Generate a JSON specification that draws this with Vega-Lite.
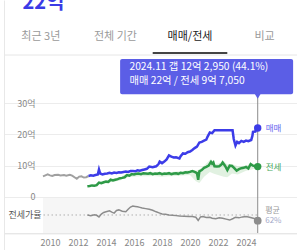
{
  "$schema": "https://vega.github.io/schema/vega-lite/v6.json",
  "width": 214,
  "height": 250,
  "autosize": "none",
  "padding": {"left": 43, "top": 0, "right": 40, "bottom": 0},
  "background": "#ffffff",
  "config": {
    "font": "Noto Sans CJK KR",
    "view": {"stroke": null},
    "text": {"font": "Noto Sans CJK KR"},
    "axis": {"labelOverlap": false, "labelBound": false, "labelFlush": false}
  },
  "datasets": {
    "early": [
      {"date": "2009-07-01", "v": 6.6}, {"date": "2009-09-01", "v": 6.9}, {"date": "2009-11-01", "v": 7.2},
      {"date": "2010-01-01", "v": 6.9}, {"date": "2010-03-01", "v": 6.7}, {"date": "2010-05-01", "v": 7.0},
      {"date": "2010-08-01", "v": 7.1}, {"date": "2010-10-01", "v": 6.9}, {"date": "2011-01-01", "v": 7.0},
      {"date": "2011-03-01", "v": 6.8}, {"date": "2011-06-01", "v": 7.1}, {"date": "2011-08-01", "v": 6.8},
      {"date": "2011-10-01", "v": 6.3}, {"date": "2011-12-01", "v": 5.8}, {"date": "2012-02-01", "v": 6.5},
      {"date": "2012-04-01", "v": 6.6}, {"date": "2012-06-01", "v": 6.2}, {"date": "2012-08-01", "v": 6.3},
      {"date": "2012-10-01", "v": 6.7}
    ],
    "sale": [
      {"date": "2012-10-01", "v": 6.7}, {"date": "2012-12-01", "v": 6.9}, {"date": "2013-02-01", "v": 6.8},
      {"date": "2013-04-01", "v": 7.0}, {"date": "2013-06-01", "v": 7.2}, {"date": "2013-07-01", "v": 8.8},
      {"date": "2013-08-01", "v": 7.5}, {"date": "2013-10-01", "v": 7.2}, {"date": "2013-12-01", "v": 7.4},
      {"date": "2014-02-01", "v": 7.5}, {"date": "2014-04-01", "v": 7.7}, {"date": "2014-06-01", "v": 7.5},
      {"date": "2014-08-01", "v": 7.8}, {"date": "2014-10-01", "v": 7.7}, {"date": "2014-12-01", "v": 7.9},
      {"date": "2015-02-01", "v": 7.8}, {"date": "2015-04-01", "v": 8.0}, {"date": "2015-06-01", "v": 8.1},
      {"date": "2015-08-01", "v": 8.0}, {"date": "2015-10-01", "v": 8.3}, {"date": "2015-12-01", "v": 8.3},
      {"date": "2016-02-01", "v": 8.2}, {"date": "2016-04-01", "v": 8.5}, {"date": "2016-06-01", "v": 8.4},
      {"date": "2016-08-01", "v": 8.6}, {"date": "2016-10-01", "v": 8.8}, {"date": "2016-12-01", "v": 9.0},
      {"date": "2017-02-01", "v": 9.7}, {"date": "2017-05-01", "v": 9.5}, {"date": "2017-08-01", "v": 9.8},
      {"date": "2017-10-01", "v": 10.5}, {"date": "2017-11-01", "v": 11.3}, {"date": "2018-01-01", "v": 10.8},
      {"date": "2018-03-01", "v": 11.3}, {"date": "2018-05-01", "v": 12.0}, {"date": "2018-07-01", "v": 13.3},
      {"date": "2018-09-01", "v": 12.9}, {"date": "2018-11-01", "v": 12.6}, {"date": "2019-01-01", "v": 12.7},
      {"date": "2019-04-01", "v": 12.3}, {"date": "2019-05-01", "v": 13.0}, {"date": "2019-07-01", "v": 13.9},
      {"date": "2019-09-01", "v": 13.8}, {"date": "2019-11-01", "v": 14.3}, {"date": "2020-01-01", "v": 14.5},
      {"date": "2020-03-01", "v": 15.0}, {"date": "2020-05-01", "v": 15.6}, {"date": "2020-07-01", "v": 16.1},
      {"date": "2020-09-01", "v": 17.4}, {"date": "2020-11-01", "v": 17.6}, {"date": "2021-01-01", "v": 18.0},
      {"date": "2021-03-01", "v": 18.3}, {"date": "2021-04-01", "v": 19.2}, {"date": "2021-06-01", "v": 20.6},
      {"date": "2021-08-01", "v": 20.4}, {"date": "2021-10-01", "v": 21.3}, {"date": "2022-03-01", "v": 21.3},
      {"date": "2022-08-01", "v": 21.3}, {"date": "2023-01-15", "v": 21.3}, {"date": "2023-02-15", "v": 18.5},
      {"date": "2023-04-01", "v": 16.4}, {"date": "2023-05-15", "v": 17.6}, {"date": "2023-07-01", "v": 17.2},
      {"date": "2023-09-01", "v": 17.9}, {"date": "2023-11-01", "v": 17.6}, {"date": "2024-01-01", "v": 18.0},
      {"date": "2024-03-01", "v": 17.8}, {"date": "2024-05-15", "v": 18.2}, {"date": "2024-06-15", "v": 19.5},
      {"date": "2024-07-01", "v": 20.8}, {"date": "2024-09-01", "v": 20.9}, {"date": "2024-10-01", "v": 22.0},
      {"date": "2024-11-01", "v": 22.0}
    ],
    "jeonse": [
      {"date": "2012-09-01", "v": 3.4}, {"date": "2012-11-01", "v": 3.5}, {"date": "2013-01-01", "v": 3.7},
      {"date": "2013-03-01", "v": 3.6}, {"date": "2013-05-01", "v": 3.8}, {"date": "2013-07-01", "v": 4.6},
      {"date": "2013-09-01", "v": 4.4}, {"date": "2013-11-01", "v": 4.7}, {"date": "2014-01-01", "v": 4.9},
      {"date": "2014-03-01", "v": 4.8}, {"date": "2014-05-01", "v": 5.5}, {"date": "2014-07-01", "v": 5.3},
      {"date": "2014-09-01", "v": 5.5}, {"date": "2014-11-01", "v": 5.7}, {"date": "2015-01-01", "v": 6.0},
      {"date": "2015-03-01", "v": 6.1}, {"date": "2015-05-01", "v": 6.3}, {"date": "2015-07-01", "v": 7.0},
      {"date": "2015-09-01", "v": 6.8}, {"date": "2015-11-01", "v": 7.3}, {"date": "2016-01-01", "v": 7.2},
      {"date": "2016-03-01", "v": 7.4}, {"date": "2016-05-01", "v": 7.5}, {"date": "2016-07-01", "v": 7.3},
      {"date": "2016-09-01", "v": 7.6}, {"date": "2016-11-01", "v": 7.5}, {"date": "2017-01-01", "v": 7.4},
      {"date": "2017-03-01", "v": 7.6}, {"date": "2017-05-01", "v": 7.3}, {"date": "2017-07-01", "v": 7.5},
      {"date": "2017-09-01", "v": 7.4}, {"date": "2017-11-01", "v": 7.6}, {"date": "2018-01-01", "v": 7.3},
      {"date": "2018-03-01", "v": 7.5}, {"date": "2018-05-01", "v": 7.4}, {"date": "2018-07-01", "v": 7.6},
      {"date": "2018-09-01", "v": 7.3}, {"date": "2018-11-01", "v": 7.5}, {"date": "2019-01-01", "v": 7.6},
      {"date": "2019-03-01", "v": 7.4}, {"date": "2019-05-01", "v": 7.7}, {"date": "2019-07-01", "v": 7.6},
      {"date": "2019-09-01", "v": 7.9}, {"date": "2019-11-01", "v": 7.8}, {"date": "2020-01-01", "v": 8.0},
      {"date": "2020-03-01", "v": 8.3}, {"date": "2020-05-01", "v": 8.0}, {"date": "2020-07-01", "v": 7.6},
      {"date": "2020-08-01", "v": 5.5}, {"date": "2020-09-01", "v": 8.2}, {"date": "2020-11-01", "v": 8.6},
      {"date": "2021-01-01", "v": 9.3}, {"date": "2021-03-01", "v": 9.6}, {"date": "2021-05-01", "v": 10.0},
      {"date": "2021-07-01", "v": 11.2}, {"date": "2021-08-01", "v": 10.6}, {"date": "2021-09-01", "v": 11.0},
      {"date": "2021-10-01", "v": 9.8}, {"date": "2021-12-01", "v": 9.7}, {"date": "2022-02-01", "v": 9.8},
      {"date": "2022-04-01", "v": 10.4}, {"date": "2022-05-01", "v": 11.0}, {"date": "2022-07-01", "v": 10.0},
      {"date": "2022-09-01", "v": 8.6}, {"date": "2022-11-01", "v": 10.0}, {"date": "2023-01-01", "v": 9.9},
      {"date": "2023-03-01", "v": 9.2}, {"date": "2023-05-01", "v": 8.4}, {"date": "2023-07-01", "v": 8.9},
      {"date": "2023-09-01", "v": 9.2}, {"date": "2023-11-01", "v": 9.3}, {"date": "2024-01-01", "v": 9.6},
      {"date": "2024-03-01", "v": 9.1}, {"date": "2024-05-01", "v": 10.5}, {"date": "2024-07-01", "v": 10.0},
      {"date": "2024-09-01", "v": 9.8}, {"date": "2024-11-01", "v": 9.705}
    ],
    "band": [
      {"date": "2013-06-01", "lo": 4.0, "hi": 4.8}, {"date": "2014-01-01", "lo": 4.4, "hi": 5.2},
      {"date": "2014-06-01", "lo": 4.8, "hi": 5.8}, {"date": "2015-01-01", "lo": 5.3, "hi": 6.3},
      {"date": "2015-06-01", "lo": 6.2, "hi": 7.3}, {"date": "2016-01-01", "lo": 6.5, "hi": 7.6},
      {"date": "2016-06-01", "lo": 6.6, "hi": 7.8}, {"date": "2017-01-01", "lo": 6.6, "hi": 7.8},
      {"date": "2017-06-01", "lo": 6.7, "hi": 7.8}, {"date": "2018-01-01", "lo": 6.5, "hi": 7.7},
      {"date": "2018-06-01", "lo": 6.6, "hi": 7.8}, {"date": "2019-01-01", "lo": 6.7, "hi": 8.1},
      {"date": "2019-06-01", "lo": 6.9, "hi": 8.2}, {"date": "2020-01-01", "lo": 7.0, "hi": 8.6},
      {"date": "2020-06-01", "lo": 5.0, "hi": 8.4}, {"date": "2020-09-01", "lo": 4.5, "hi": 8.8},
      {"date": "2021-01-01", "lo": 6.5, "hi": 10.0}, {"date": "2021-06-01", "lo": 8.0, "hi": 11.8},
      {"date": "2021-09-01", "lo": 7.5, "hi": 10.5}, {"date": "2022-01-01", "lo": 7.0, "hi": 10.6},
      {"date": "2022-06-01", "lo": 6.5, "hi": 11.5}, {"date": "2022-09-01", "lo": 6.3, "hi": 10.4},
      {"date": "2023-01-01", "lo": 7.5, "hi": 10.5}, {"date": "2023-06-01", "lo": 7.2, "hi": 9.8},
      {"date": "2024-01-01", "lo": 8.4, "hi": 10.0}, {"date": "2024-06-01", "lo": 8.8, "hi": 10.8},
      {"date": "2024-11-01", "lo": 9.4, "hi": 10.0}
    ],
    "ratio": [
      {"date": "2012-09-01", "r": 62}, {"date": "2012-12-01", "r": 60}, {"date": "2013-03-01", "r": 63},
      {"date": "2013-05-01", "r": 61}, {"date": "2013-07-01", "r": 56}, {"date": "2013-09-01", "r": 65},
      {"date": "2013-11-01", "r": 70}, {"date": "2014-01-01", "r": 72}, {"date": "2014-04-01", "r": 75},
      {"date": "2014-06-01", "r": 71}, {"date": "2014-08-01", "r": 68}, {"date": "2014-10-01", "r": 76},
      {"date": "2014-12-01", "r": 78}, {"date": "2015-03-01", "r": 74}, {"date": "2015-06-01", "r": 72},
      {"date": "2015-08-01", "r": 80}, {"date": "2015-10-01", "r": 87}, {"date": "2015-12-01", "r": 90},
      {"date": "2016-02-01", "r": 89}, {"date": "2016-04-01", "r": 88}, {"date": "2016-06-01", "r": 86},
      {"date": "2016-08-01", "r": 84}, {"date": "2016-11-01", "r": 82}, {"date": "2017-02-01", "r": 80},
      {"date": "2017-05-01", "r": 77}, {"date": "2017-08-01", "r": 72}, {"date": "2017-11-01", "r": 68},
      {"date": "2018-01-01", "r": 65}, {"date": "2018-04-01", "r": 64}, {"date": "2018-07-01", "r": 62},
      {"date": "2018-10-01", "r": 61}, {"date": "2019-01-01", "r": 60}, {"date": "2019-04-01", "r": 59},
      {"date": "2019-08-01", "r": 58}, {"date": "2019-12-01", "r": 57}, {"date": "2020-03-01", "r": 57},
      {"date": "2020-06-01", "r": 55}, {"date": "2020-08-01", "r": 45}, {"date": "2020-10-01", "r": 56},
      {"date": "2020-12-01", "r": 57}, {"date": "2021-03-01", "r": 54}, {"date": "2021-06-01", "r": 55},
      {"date": "2021-08-01", "r": 52}, {"date": "2021-11-01", "r": 50}, {"date": "2022-02-01", "r": 53},
      {"date": "2022-05-01", "r": 52}, {"date": "2022-08-01", "r": 49}, {"date": "2022-11-01", "r": 46},
      {"date": "2023-02-01", "r": 51}, {"date": "2023-04-01", "r": 55}, {"date": "2023-07-01", "r": 53},
      {"date": "2023-10-01", "r": 56}, {"date": "2024-01-01", "r": 57}, {"date": "2024-04-01", "r": 55},
      {"date": "2024-08-01", "r": 51}, {"date": "2024-11-01", "r": 44.1}
    ],
    "tip": [
      {"date": "2024-11-01", "sale": 22.0, "jeonse": 9.705, "ratio": 44.1, "mean": 62,
       "t1": "2024.11  갭 12억 2,950 (44.1%)", "t2": "매매 22억 / 전세 9억 7,050"}
    ],
    "tabs": [
      {"tab": "최근 3년", "sel": 0}, {"tab": "전체 기간", "sel": 0},
      {"tab": "매매/전세", "sel": 1}, {"tab": "비교", "sel": 0}
    ]
  },
  "layer": [
    {
      "layer": [
        {
          "layer": [
            {
              "data": {"name": "band"},
              "mark": {"type": "area", "color": "#a8d8a8", "opacity": 0.35},
              "encoding": {
                "x": {"field": "date", "type": "temporal",
                      "scale": {"type": "utc", "domain": [{"year": 2006, "month": 9, "date": 18, "utc": true}, {"year": 2027, "month": 8, "date": 23, "utc": true}], "range": [-39, 254]}},
                "y": {"field": "lo", "type": "quantitative",
                      "scale": {"domain": [-16.92, 62.88], "nice": false, "zero": false},
                      "axis": {"orient": "left", "values": [0, 10, 20, 30], "tickCount": 10, "labelExpr": "datum.value == 0 ? '0' : datum.value + '억'", "grid": true, "gridColor": "#ececec", "domain": false, "ticks": false, "tickSize": 0, "labelPadding": 8, "labelFontSize": 9, "labelColor": "#888888",
                               "title": "22억", "titleAngle": 0, "titleX": -21, "titleY": 8, "titleAlign": "left", "titleBaseline": "alphabetic", "titleFontSize": 20, "titleFontWeight": "bold", "titleColor": "#3b3be6"}},
                "y2": {"field": "hi"}
              }
            },
            {
              "data": {"name": "early"},
              "mark": {"type": "line", "color": "#a0a0a0", "strokeWidth": 2},
              "encoding": {
                "x": {"field": "date", "type": "temporal"},
                "y": {"field": "v", "type": "quantitative"}
              }
            },
            {
              "data": {"name": "jeonse"},
              "mark": {"type": "line", "color": "#2e9a47", "strokeWidth": 2.5},
              "encoding": {
                "x": {"field": "date", "type": "temporal"},
                "y": {"field": "v", "type": "quantitative"}
              }
            },
            {
              "data": {"name": "sale"},
              "mark": {"type": "line", "color": "#3c3ce8", "strokeWidth": 2.5},
              "encoding": {
                "x": {"field": "date", "type": "temporal"},
                "y": {"field": "v", "type": "quantitative"}
              }
            },
            {
              "data": {"name": "tip"},
              "mark": {"type": "rule", "color": "#8c8c8c", "strokeWidth": 1},
              "encoding": {
                "x": {"field": "date", "type": "temporal"},
                "y": {"datum": 32.5},
                "y2": {"datum": -11.5}
              }
            },
            {
              "data": {"name": "tip"},
              "mark": {"type": "point", "filled": true, "opacity": 1, "color": "#3c3ce8", "size": 55},
              "encoding": {
                "x": {"field": "date", "type": "temporal"},
                "y": {"field": "sale", "type": "quantitative"}
              }
            },
            {
              "data": {"name": "tip"},
              "mark": {"type": "point", "filled": true, "opacity": 1, "color": "#2e9a47", "size": 55},
              "encoding": {
                "x": {"field": "date", "type": "temporal"},
                "y": {"field": "jeonse", "type": "quantitative"}
              }
            },
            {
              "data": {"name": "tip"},
              "mark": {"type": "text", "align": "left", "baseline": "middle", "dx": 8, "fontSize": 8.5, "color": "#6a6af0"},
              "encoding": {
                "x": {"field": "date", "type": "temporal"},
                "y": {"field": "sale", "type": "quantitative"},
                "text": {"value": "매매"}
              }
            },
            {
              "data": {"name": "tip"},
              "mark": {"type": "text", "align": "left", "baseline": "middle", "dx": 8, "fontSize": 8.5, "color": "#48a860"},
              "encoding": {
                "x": {"field": "date", "type": "temporal"},
                "y": {"field": "jeonse", "type": "quantitative"},
                "text": {"value": "전세"}
              }
            },
            {
              "data": {"name": "tip"},
              "mark": {"type": "rect", "color": "#5b5ee6", "cornerRadius": 2, "xOffset": -137.6, "x2Offset": 35.4},
              "encoding": {
                "x": {"field": "date", "type": "temporal"},
                "x2": {"field": "date"},
                "y": {"datum": 44.05},
                "y2": {"datum": 32.78}
              }
            },
            {
              "data": {"name": "tip"},
              "mark": {"type": "point", "shape": "triangle-down", "filled": true, "opacity": 1, "color": "#5b5ee6", "size": 40},
              "encoding": {
                "x": {"field": "date", "type": "temporal"},
                "y": {"datum": 32.2}
              }
            },
            {
              "data": {"name": "tip"},
              "mark": {"type": "text", "align": "left", "baseline": "middle", "dx": -128.3, "fontSize": 10.3, "color": "#ffffff"},
              "encoding": {
                "x": {"field": "date", "type": "temporal"},
                "y": {"datum": 41.4},
                "text": {"field": "t1"}
              }
            },
            {
              "data": {"name": "tip"},
              "mark": {"type": "text", "align": "left", "baseline": "middle", "dx": -128.3, "fontSize": 10.3, "color": "#ffffff"},
              "encoding": {
                "x": {"field": "date", "type": "temporal"},
                "y": {"datum": 36.9},
                "text": {"field": "t2"}
              }
            }
          ]
        },
        {
          "layer": [
            {
              "data": {"name": "tip"},
              "mark": {"type": "rect", "color": "#f6f6f6"},
              "encoding": {
                "y": {"datum": 115.5, "scale": {"domain": [-48.1, 738.1], "nice": false, "zero": false}},
                "y2": {"datum": 5.4}
              }
            },
            {
              "data": {"name": "tip"},
              "mark": {"type": "rule", "color": "#b0b0b0", "strokeDash": [1.5, 2.5], "strokeWidth": 1},
              "encoding": {
                "y": {"field": "mean", "type": "quantitative"}
              }
            },
            {
              "data": {"name": "ratio"},
              "mark": {"type": "line", "color": "#8c8c8c", "strokeWidth": 1.5},
              "encoding": {
                "x": {"field": "date", "type": "temporal",
                      "axis": {"orient": "bottom", "offset": -16.7, "values": [{"year": 2010, "utc": true}, {"year": 2012, "utc": true}, {"year": 2014, "utc": true}, {"year": 2016, "utc": true}, {"year": 2018, "utc": true}, {"year": 2020, "utc": true}, {"year": 2022, "utc": true}, {"year": 2024, "utc": true}], "tickCount": 20, "format": "%Y", "labelPadding": 5, "labelOverlap": false, "labelBound": false, "labelFlush": false, "labelSeparation": 0, "ticks": false, "tickSize": 0, "grid": false, "domainColor": "#dddddd", "labelColor": "#888888", "labelFontSize": 9, "title": null}},
                "y": {"field": "r", "type": "quantitative",
                      "axis": {"orient": "left", "offset": 39, "values": [62], "labelExpr": "'전세가율'", "labelPadding": -37, "ticks": false, "tickSize": 0, "grid": false, "domainColor": "#e8e8e8", "labelColor": "#555555", "labelFontSize": 9, "title": null}}
              }
            },
            {
              "data": {"name": "tip"},
              "mark": {"type": "point", "filled": true, "opacity": 1, "color": "#8c8c8c", "size": 60},
              "encoding": {
                "x": {"field": "date", "type": "temporal"},
                "y": {"field": "ratio", "type": "quantitative"}
              }
            },
            {
              "data": {"name": "tip"},
              "mark": {"type": "text", "align": "left", "baseline": "middle", "dx": 7.5, "dy": -4, "fontSize": 8, "color": "#999999"},
              "encoding": {
                "x": {"field": "date", "type": "temporal"},
                "y": {"field": "mean", "type": "quantitative"},
                "text": {"value": "평균"}
              }
            },
            {
              "data": {"name": "tip"},
              "mark": {"type": "text", "align": "left", "baseline": "middle", "dx": 7.5, "dy": 6, "fontSize": 8, "color": "#a3a9c9"},
              "encoding": {
                "x": {"field": "date", "type": "temporal"},
                "y": {"field": "mean", "type": "quantitative"},
                "text": {"value": "62%"}
              }
            }
          ]
        }
      ],
      "resolve": {"scale": {"y": "independent"}}
    },
    {
      "data": {"name": "tabs"},
      "mark": {"type": "bar", "color": "#444444"},
      "encoding": {
        "x": {"field": "tab", "type": "nominal", "sort": null,
              "scale": {"type": "band", "domain": ["최근 3년", "전체 기간", "매매/전세", "비교"], "range": [-39.5, 258.9], "paddingInner": 0, "paddingOuter": 0},
              "axis": {"orient": "top", "offset": -54.5, "labelAngle": 0, "ticks": false, "tickSize": 0, "labelPadding": 13, "labelFontSize": 11, "labelOverlap": false, "labelBound": false,
                       "labelColor": {"condition": {"test": "datum.value === '매매/전세'", "value": "#222222"}, "value": "#9a9a9a"},
                       "domainColor": "#e6e6e6", "title": null}},
        "y": {"field": "sel", "type": "quantitative", "scale": {"domain": [0, 1], "range": [54, 52], "nice": false}, "axis": null}
      }
    }
  ],
  "resolve": {"scale": {"x": "independent", "y": "independent"}}
}
